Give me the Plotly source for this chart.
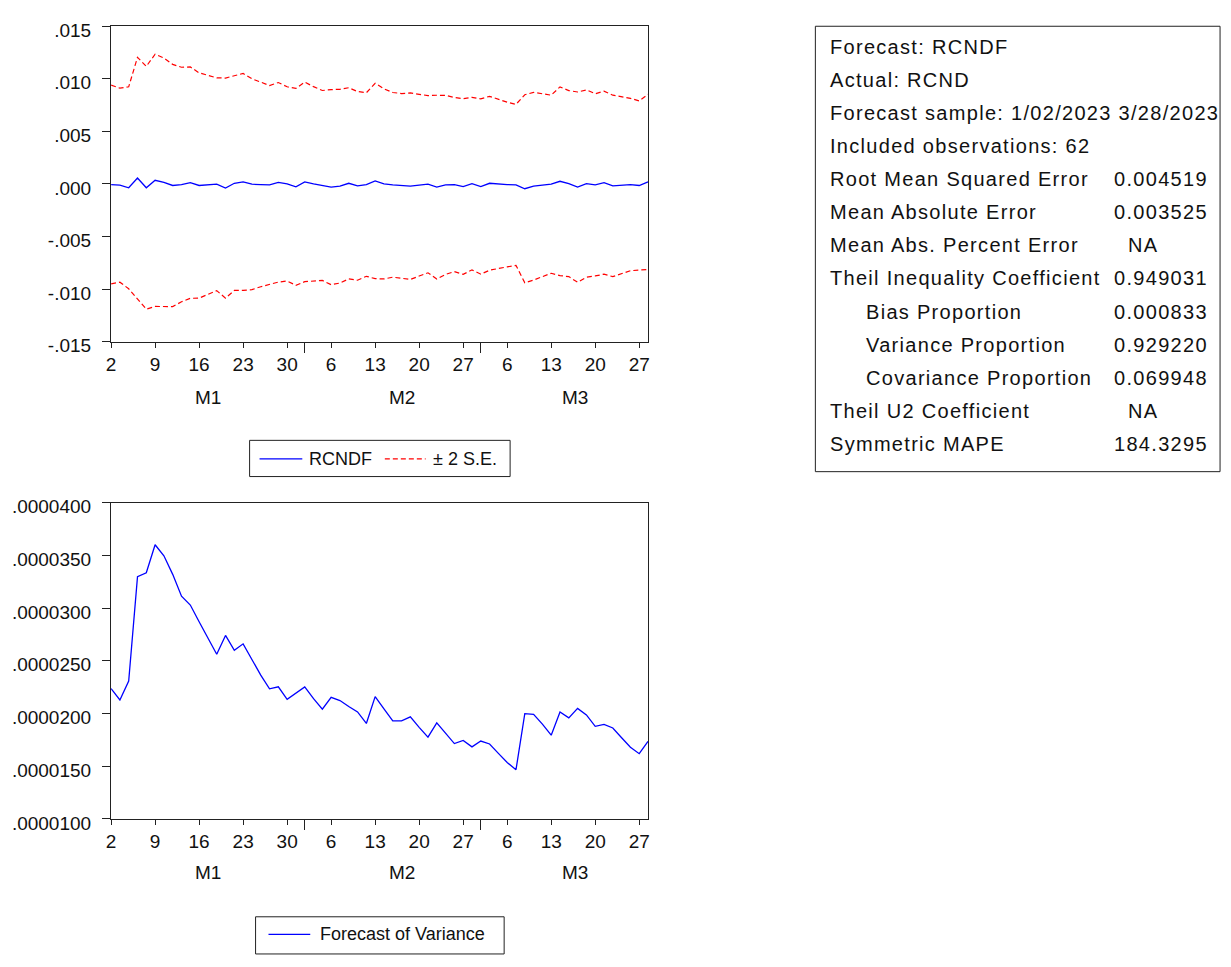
import numpy as np
import pandas as pd
import plotly.graph_objects as go

# ---------------------------------------------------------------- data ----
# daily (Mon-Fri) forecast sample 1/02/2023 - 3/28/2023
obs_dates = pd.bdate_range("2023-01-02", "2023-03-28")

# static forecast RCNDF
rcndf = [
    -0.00006, -0.00012, -0.00037, 0.00056, -0.00037, 0.00034, 0.00015, -0.00015,
    -0.00006, 0.00012, -0.00015, -0.00009, -0.00003, -0.00040, 0.00006, 0.00019,
    -0.00003, -0.00006, -0.00009, 0.00015, 0.00000, -0.00028, 0.00019, 0.00000,
    -0.00015, -0.00031, -0.00022, 0.00006, -0.00019, -0.00006, 0.00028, 0.00000,
    -0.00009, -0.00019, -0.00022, -0.00012, -0.00003, -0.00031, -0.00009, -0.00006,
    -0.00025, 0.00003, -0.00025, 0.00006, -0.00003, -0.00006, -0.00009, -0.00046,
    -0.00022, -0.00012, -0.00003, 0.00025, 0.00003, -0.00031, 0.00003, -0.00009,
    0.00012, -0.00019, -0.00012, -0.00006, -0.00015, 0.00019,
]

# forecast of variance (x 1e-6)
variance_e6 = [
    22.37, 21.29, 23.08, 32.98, 33.35, 36.01, 34.96, 33.20, 31.13, 30.29,
    28.71, 27.10, 25.62, 27.41, 25.99, 26.61, 25.16, 23.64, 22.34, 22.53,
    21.35, 21.94, 22.53, 21.41, 20.42, 21.54, 21.23, 20.67, 20.15, 19.06,
    21.60, 20.45, 19.31, 19.31, 19.68, 18.69, 17.76, 19.12, 18.13, 17.15,
    17.45, 16.84, 17.39, 17.11, 16.22, 15.35, 14.67, 19.99, 19.93, 19.00,
    17.95, 20.15, 19.59, 20.49, 19.87, 18.78, 18.97, 18.63, 17.70, 16.80,
    16.19, 17.36,
]

month_names = ["M1", "M2", "M3"]

top_yticks = [0.015, 0.010, 0.005, 0.0, -0.005, -0.010, -0.015]
top_yticktext = [".015", ".010", ".005", ".000", "-.005", "-.010", "-.015"]
bot_yticks = [4.0e-5, 3.5e-5, 3.0e-5, 2.5e-5, 2.0e-5, 1.5e-5, 1.0e-5]
bot_yticktext = [".0000400", ".0000350", ".0000300", ".0000250",
                 ".0000200", ".0000150", ".0000100"]

stat_labels = [
    "Forecast: RCNDF", "Actual: RCND", "Forecast sample: 1/02/2023 3/28/2023",
    "Included observations: 62", "Root Mean Squared Error", "Mean Absolute Error",
    "Mean Abs. Percent Error", "Theil Inequality Coefficient", "Bias Proportion",
    "Variance Proportion", "Covariance Proportion", "Theil U2 Coefficient",
    "Symmetric MAPE",
]
stat_values = ["", "", "", "", "0.004519", "0.003525", "NA", "0.949031",
               "0.000833", "0.929220", "0.069948", "NA", "184.3295"]
stat_indent = [False] * 8 + [True] * 3 + [False] * 2

# ------------------------------------------------------------ derived ----
obs = np.arange(len(obs_dates))
forecast = np.array(rcndf)
variance = np.array(variance_e6) * 1e-6
se = np.sqrt(variance)
upper = forecast + 2 * se
lower = forecast - 2 * se

monday_idx = [i for i, d in enumerate(obs_dates) if d.weekday() == 0]
monday_txt = [str(obs_dates[i].day) for i in monday_idx]
month_start = [i for i in range(len(obs_dates))
               if i == 0 or obs_dates[i].month != obs_dates[i - 1].month]

# -------------------------------------------------------------- layout ----
W, H = 1231, 967
FONT = "Liberation Sans, Arial, sans-serif"
INK = "#111111"
AXIS = "#222222"
BLUE = "#0000ff"
RED = "#ff0000"
DASH = "5px,3px"


def px(x):
    return x / W


def py(y):
    return 1 - y / H


PLOT_L, PLOT_R = 106.7, 646.7
TOP_T, TOP_B = 20.7, 343.0
BOT_T, BOT_B = 507.7, 831.0

fig = go.Figure()

fig.add_trace(go.Scatter(x=obs, y=forecast, mode="lines", name="RCNDF",
                         line=dict(color=BLUE, width=1.3),
                         xaxis="x", yaxis="y", showlegend=False))
fig.add_trace(go.Scatter(x=obs, y=upper, mode="lines", name="± 2 S.E.",
                         line=dict(color=RED, width=1.2, dash=DASH),
                         xaxis="x", yaxis="y", showlegend=False))
fig.add_trace(go.Scatter(x=obs, y=lower, mode="lines", name="± 2 S.E.",
                         line=dict(color=RED, width=1.2, dash=DASH),
                         xaxis="x", yaxis="y", showlegend=False))
fig.add_trace(go.Scatter(x=obs, y=variance, mode="lines",
                         name="Forecast of Variance",
                         line=dict(color=BLUE, width=1.3),
                         xaxis="x2", yaxis="y2", showlegend=False))

tickfont = dict(family=FONT, size=19, color=INK)


def xaxis_cfg(anchor):
    return dict(
        domain=[px(PLOT_L), px(PLOT_R)], anchor=anchor, range=[0, len(obs) - 1],
        showline=True, linecolor=AXIS, linewidth=1.3, mirror=True,
        showgrid=False, zeroline=False,
        tickmode="array", tickvals=monday_idx, ticktext=monday_txt,
        ticks="outside", ticklen=5, tickwidth=1, tickcolor=AXIS,
        tickfont=tickfont, ticklabelstandoff=0,
        minor=dict(tickmode="array", tickvals=month_start[1:], ticks="outside",
                   ticklen=10, tickwidth=1, tickcolor=AXIS),
    )


def yaxis_cfg(anchor, dom, rng, vals, txt):
    return dict(
        domain=dom, anchor=anchor, range=rng,
        showline=True, linecolor=AXIS, linewidth=1.3, mirror=True,
        showgrid=False, zeroline=False,
        tickmode="array", tickvals=vals, ticktext=txt,
        ticks="outside", ticklen=8, tickwidth=1, tickcolor=AXIS,
        tickfont=tickfont, ticklabelstandoff=7, ticklabelshift=4,
    )


fig.update_layout(
    width=W, height=H, margin=dict(l=0, r=0, t=0, b=0),
    paper_bgcolor="white", plot_bgcolor="white",
    font=dict(family=FONT, color=INK),
    xaxis=xaxis_cfg("y"),
    yaxis=yaxis_cfg("x", [py(TOP_B), py(TOP_T)], [-0.015, 0.015],
                    top_yticks, top_yticktext),
    xaxis2=xaxis_cfg("y2"),
    yaxis2=yaxis_cfg("x2", [py(BOT_B), py(BOT_T)], [1.0e-5, 4.0e-5],
                     bot_yticks, bot_yticktext),
)

shapes = []
annotations = []

# month labels under each date axis
MONTH_OFFSET = 11
for xref, ypix in (("x", 400), ("x2", 886)):
    for name, start in zip(month_names, month_start):
        annotations.append(dict(
            x=start + MONTH_OFFSET - (0.35 if start == month_start[-1] else 0),
            y=py(ypix), xref=xref, yref="paper", text=name, showarrow=False,
            xanchor="center", yanchor="middle",
            font=dict(family=FONT, size=19, color=INK)))


def legend_box(x0, y0, x1, y1):
    shapes.append(dict(type="rect", xref="paper", yref="paper",
                       x0=px(x0), x1=px(x1), y0=py(y1), y1=py(y0),
                       line=dict(color=AXIS, width=1), fillcolor="white"))


def legend_item(x0, x1, y, color, dash, label, tx):
    shapes.append(dict(type="line", xref="paper", yref="paper",
                       x0=px(x0), x1=px(x1), y0=py(y), y1=py(y),
                       line=dict(color=color, width=1.3, dash=dash)))
    annotations.append(dict(x=px(tx), y=py(y), xref="paper", yref="paper",
                            text=label, showarrow=False, xanchor="left",
                            yanchor="middle",
                            font=dict(family=FONT, size=18, color=INK)))


# legend of the upper panel
legend_box(246, 444, 508, 481)
legend_item(256, 299, 463, BLUE, "solid", "RCNDF", 304)
legend_item(382, 423, 463, RED, DASH, "± 2 S.E.", 428)

# legend of the lower panel
legend_box(252, 931, 502, 969)
legend_item(265, 307, 949, BLUE, "solid", "Forecast of Variance", 315)

# forecast evaluation table
shapes.append(dict(type="rect", xref="paper", yref="paper",
                   x0=px(815), x1=px(1222), y0=py(476), y1=py(20.7),
                   line=dict(color=AXIS, width=1), fillcolor="rgba(0,0,0,0)"))
ROW0, ROW_STEP = 41.7, 33.83
SPAN = '<span style="letter-spacing:1.3px">{}</span>'
for k, (lab, val, ind) in enumerate(zip(stat_labels, stat_values, stat_indent)):
    yk = py(ROW0 + k * ROW_STEP)
    annotations.append(dict(
        x=px(864 if ind else 828), y=yk, xref="paper", yref="paper",
        text=SPAN.format(lab), showarrow=False, xanchor="left", yanchor="middle",
        font=dict(family=FONT, size=20, color=INK)))
    if val:
        annotations.append(dict(
            x=px(1127 if val == "NA" else 1113), y=yk, xref="paper", yref="paper",
            text=SPAN.format(val), showarrow=False, xanchor="left",
            yanchor="middle", font=dict(family=FONT, size=20, color=INK)))

fig.update_layout(shapes=shapes, annotations=annotations)

fig.write_html("out.html")
